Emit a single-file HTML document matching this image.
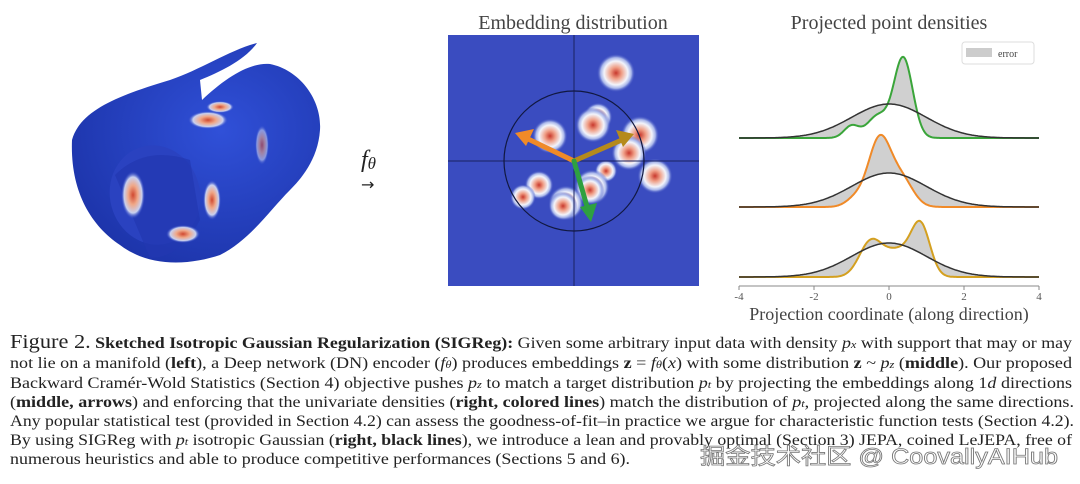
<!DOCTYPE html>
<html><head><meta charset="utf-8"><style>
html,body{margin:0;padding:0;background:#fff;width:1080px;height:484px;overflow:hidden}
svg{display:block}
.cap{font-family:"Liberation Serif",serif;font-size:16px;fill:#222}
</style></head><body>
<svg id="s" width="1080" height="484" viewBox="0 0 1080 484" xmlns="http://www.w3.org/2000/svg">
<defs>
<radialGradient id="blob"><stop offset="0" stop-color="#c8382c"/><stop offset="0.3" stop-color="#f0a088"/><stop offset="0.62" stop-color="#f2f4fb"/><stop offset="0.8" stop-color="#a8b6ea"/><stop offset="1" stop-color="#3a4cc0" stop-opacity="0"/></radialGradient>
<radialGradient id="cblob"><stop offset="0" stop-color="#d04830"/><stop offset="0.4" stop-color="#f0a888"/><stop offset="0.75" stop-color="#c8d0f0"/><stop offset="1" stop-color="#2a44c8" stop-opacity="0"/></radialGradient>
<radialGradient id="cyl" cx="0.6" cy="0.4" r="0.7"><stop offset="0" stop-color="#3050d8"/><stop offset="1" stop-color="#1c33a8"/></radialGradient>
<clipPath id="sq"><rect x="448" y="35" width="251" height="251"/></clipPath>
</defs>
<!-- cylinder -->
<path d="M72,140 C80,110 120,95 170,80 C200,70 230,50 257,43 C245,60 220,72 200,80 L202,100 C225,78 250,62 270,64 C300,70 322,100 320,130 C318,160 300,180 290,190 C270,210 250,240 220,255 C190,265 150,268 120,245 C90,225 70,190 72,140 Z" fill="url(#cyl)"/>
<ellipse cx="155" cy="195" rx="45" ry="50" fill="#2a42c0" transform="rotate(-15 155 195)"/>
<path d="M115,175 Q145,145 190,160 L200,220 Q180,258 150,258 Z" fill="#2238b0" opacity="0.7"/>
<ellipse cx="208" cy="120" rx="20" ry="9" fill="url(#cblob)"/>
<ellipse cx="220" cy="107" rx="14" ry="6" fill="url(#cblob)"/>
<ellipse cx="133" cy="195" rx="12" ry="24" fill="url(#cblob)"/>
<ellipse cx="212" cy="200" rx="9" ry="20" fill="url(#cblob)"/>
<ellipse cx="183" cy="234" rx="17" ry="9" fill="url(#cblob)"/>
<ellipse cx="262" cy="145" rx="7" ry="20" fill="url(#cblob)" opacity="0.6"/>
<text x="361" y="167" font-family="Liberation Serif,serif" font-size="24" font-style="italic" fill="#222">f<tspan font-size="17" dy="2">θ</tspan></text>
<text x="361" y="190" font-family="DejaVu Sans,sans-serif" font-size="16" fill="#222">→</text>
<!-- embedding -->
<text x="573" y="29" text-anchor="middle" font-family="Liberation Serif,serif" font-size="20" fill="#444">Embedding distribution</text>
<rect x="448" y="35" width="251" height="251" fill="#3a4cc0"/>
<g clip-path="url(#sq)" id="blobs"></g>
<line x1="574" y1="35" x2="574" y2="286" stroke="#1a2260" stroke-width="1"/>
<line x1="448" y1="161" x2="699" y2="161" stroke="#1a2260" stroke-width="1"/>
<circle cx="574" cy="161" r="70" fill="none" stroke="#111840" stroke-width="1.2"/>
<g stroke-width="5" stroke-linecap="round">
<line x1="574" y1="161" x2="526" y2="138" stroke="#f08a28"/>
<line x1="574" y1="161" x2="624" y2="139" stroke="#b58a1c"/>
<line x1="574" y1="161" x2="588" y2="210" stroke="#2ea040"/>
</g>
<polygon points="515,133 534,129 526,146" fill="#f08a28"/>
<polygon points="634,134 616,130 623,147" fill="#b58a1c"/>
<polygon points="591,222 580,207 597,203" fill="#2ea040"/>
<!-- densities -->
<text x="889" y="29" text-anchor="middle" font-family="Liberation Serif,serif" font-size="20" fill="#444">Projected point densities</text>
<rect x="962" y="42" width="72" height="22" rx="3" fill="#fff" stroke="#ddd"/>
<rect x="966" y="48" width="26" height="9" fill="#ccc"/>
<text x="998" y="57" font-family="Liberation Serif,serif" font-size="10" fill="#444">error</text>
<g id="dens"></g>
<line x1="739" y1="286" x2="1039" y2="286" stroke="#888" stroke-width="1"/>
<g font-family="Liberation Serif,serif" font-size="11" fill="#555" text-anchor="middle">
<line x1="739" y1="286" x2="739" y2="290" stroke="#888"/><text x="739" y="300">-4</text>
<line x1="814" y1="286" x2="814" y2="290" stroke="#888"/><text x="814" y="300">-2</text>
<line x1="889" y1="286" x2="889" y2="290" stroke="#888"/><text x="889" y="300">0</text>
<line x1="964" y1="286" x2="964" y2="290" stroke="#888"/><text x="964" y="300">2</text>
<line x1="1039" y1="286" x2="1039" y2="290" stroke="#888"/><text x="1039" y="300">4</text>
</g>
<text x="889" y="320" text-anchor="middle" font-family="Liberation Serif,serif" font-size="18" fill="#444">Projection coordinate (along direction)</text>
<!-- caption -->
<g class="cap">
<text x="10" y="348" textLength="1062" lengthAdjust="spacingAndGlyphs"><tspan font-size="20">Figure 2.</tspan> <tspan font-weight="bold">Sketched Isotropic Gaussian Regularization (SIGReg):</tspan> Given some arbitrary input data with density <tspan font-style="italic">p<tspan font-size="11">x</tspan></tspan> with support that may or may</text>
<text x="10" y="368" textLength="1062" lengthAdjust="spacingAndGlyphs">not lie on a manifold (<tspan font-weight="bold">left</tspan>), a Deep network (DN) encoder (<tspan font-style="italic">f<tspan font-size="11">θ</tspan></tspan>) produces embeddings <tspan font-weight="bold">z</tspan> = <tspan font-style="italic">f<tspan font-size="11">θ</tspan></tspan>(<tspan font-style="italic">x</tspan>) with some distribution <tspan font-weight="bold">z</tspan> ~ <tspan font-style="italic">p<tspan font-size="11">z</tspan></tspan> (<tspan font-weight="bold">middle</tspan>). Our proposed</text>
<text x="10" y="388" textLength="1062" lengthAdjust="spacingAndGlyphs">Backward Cramér-Wold Statistics (Section 4) objective pushes <tspan font-style="italic">p<tspan font-size="11">z</tspan></tspan> to match a target distribution <tspan font-style="italic">p<tspan font-size="11">t</tspan></tspan> by projecting the embeddings along 1<tspan font-style="italic">d</tspan> directions</text>
<text x="10" y="407" textLength="1064" lengthAdjust="spacingAndGlyphs">(<tspan font-weight="bold">middle, arrows</tspan>) and enforcing that the univariate densities (<tspan font-weight="bold">right, colored lines</tspan>) match the distribution of <tspan font-style="italic">p<tspan font-size="11">t</tspan></tspan>, projected along the same directions.</text>
<text x="10" y="426" textLength="1064" lengthAdjust="spacingAndGlyphs">Any popular statistical test (provided in Section 4.2) can assess the goodness-of-fit–in practice we argue for characteristic function tests (Section 4.2).</text>
<text x="10" y="445" textLength="1062" lengthAdjust="spacingAndGlyphs">By using SIGReg with <tspan font-style="italic">p<tspan font-size="11">t</tspan></tspan> isotropic Gaussian (<tspan font-weight="bold">right, black lines</tspan>), we introduce a lean and provably optimal (Section 3) JEPA, coined LeJEPA, free of</text>
<text x="10" y="464" textLength="620" lengthAdjust="spacingAndGlyphs">numerous heuristics and able to produce competitive performances (Sections 5 and 6).</text>
</g>
<text x="700" y="464" textLength="358" lengthAdjust="spacingAndGlyphs" font-family="Liberation Sans,Noto Sans CJK SC,sans-serif" font-size="22" fill="#fff" stroke="#777" stroke-width="0.8">掘金技术社区 @ CoovallyAIHub</text>
</svg>
<script>
var NS="http://www.w3.org/2000/svg";
var b=[[616,73,12],[598,117,9],[593,125,11],[550,136,11],[640,135,12],[629,153,11],[655,176,11],[606,171,7],[592,187,11],[590,190,9],[539,185,9],[523,197,8],[566,203,11],[563,206,9]];
var g=document.getElementById("blobs");
b.forEach(function(p){var c=document.createElementNS(NS,"circle");c.setAttribute("cx",p[0]);c.setAttribute("cy",p[1]);c.setAttribute("r",p[2]*1.6);c.setAttribute("fill","url(#blob)");g.appendChild(c);});
function G(x,m,s){return Math.exp(-(x-m)*(x-m)/(2*s*s));}
var curves=[
 {base:138,col:"#3aa53a",f:function(x){return 80*G(x,0.38,0.25)+22*G(x,-0.3,0.28)+12*G(x,-1.0,0.2);}},
 {base:207,col:"#f08a28",f:function(x){return 68*G(x,-0.25,0.3)+26*G(x,0.35,0.3)+8*G(x,-0.9,0.25);}},
 {base:277,col:"#d4a020",f:function(x){return 47*G(x,0.85,0.25)+33*G(x,-0.5,0.3)+26*G(x,0.25,0.4);}}
];
var d=document.getElementById("dens");
curves.forEach(function(c){
 var pc=[],pg=[];
 for(var i=0;i<=300;i++){var x=-4+i*8/300;var X=739+i;pc.push(X+","+(c.base-c.f(x)).toFixed(1));pg.push(X+","+(c.base-34*G(x,0,1)).toFixed(1));}
 var f=document.createElementNS(NS,"path");f.setAttribute("d","M"+pc.join(" L")+" L"+pg.slice().reverse().join(" L")+"Z");f.setAttribute("fill","#d0d0d0");d.appendChild(f);
 var l=document.createElementNS(NS,"path");l.setAttribute("d","M"+pc.join(" L"));l.setAttribute("fill","none");l.setAttribute("stroke",c.col);l.setAttribute("stroke-width","2");d.appendChild(l);
 var k=document.createElementNS(NS,"path");k.setAttribute("d","M"+pg.join(" L"));k.setAttribute("fill","none");k.setAttribute("stroke","#333");k.setAttribute("stroke-width","1.5");d.appendChild(k);
});
</script>
</body></html>
